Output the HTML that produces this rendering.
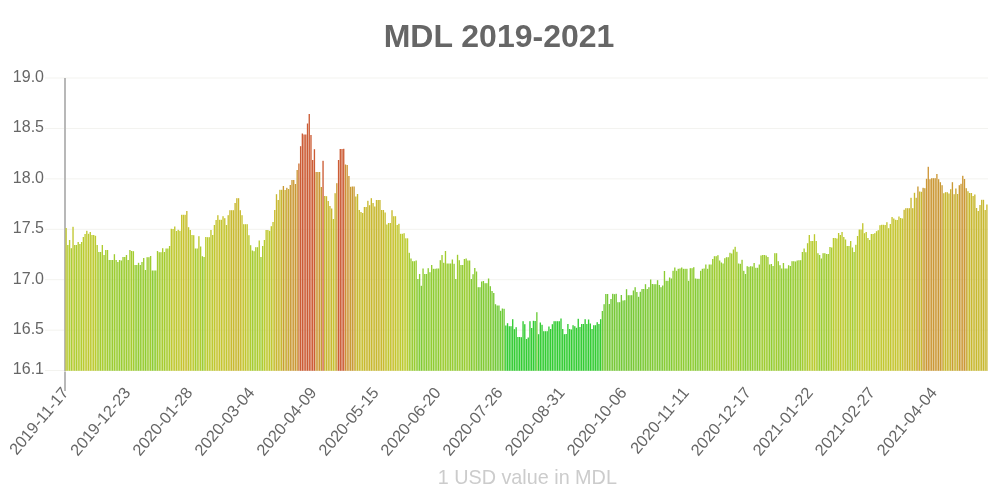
<!DOCTYPE html>
<html><head><meta charset="utf-8"><style>
html,body{margin:0;padding:0;background:#fff;width:1000px;height:500px;overflow:hidden}
svg{display:block;font-family:"Liberation Sans",sans-serif}
</style></head><body><div style="will-change:transform;width:1000px;height:500px">
<svg width="1000" height="500" viewBox="0 0 1000 500">
<rect width="1000" height="500" fill="#fff"/>
<text x="499" y="46.6" text-anchor="middle" font-size="32" font-weight="bold" fill="#666666">MDL 2019-2021</text>
<g><rect x="45" y="77.50" width="943" height="1" fill="#f3f3ef"/><rect x="45" y="127.93" width="943" height="1" fill="#f3f3ef"/><rect x="45" y="178.36" width="943" height="1" fill="#f3f3ef"/><rect x="45" y="228.79" width="943" height="1" fill="#f3f3ef"/><rect x="45" y="279.22" width="943" height="1" fill="#f3f3ef"/><rect x="45" y="329.65" width="943" height="1" fill="#f3f3ef"/><rect x="45" y="369.99" width="943" height="1" fill="#f3f3ef"/></g>
<g fill="#666666" font-size="16"><text x="44" y="81.8" text-anchor="end">19.0</text><text x="44" y="132.2" text-anchor="end">18.5</text><text x="44" y="182.7" text-anchor="end">18.0</text><text x="44" y="233.1" text-anchor="end">17.5</text><text x="44" y="283.5" text-anchor="end">17.0</text><text x="44" y="333.9" text-anchor="end">16.5</text><text x="44" y="374.3" text-anchor="end">16.1</text></g>
<rect x="64" y="78" width="2" height="293" fill="#b8b8b8"/>
<g><rect x="65.45" y="228.0" width="1.35" height="142.8" fill="rgb(192,200,48)"/><rect x="67.17" y="245.0" width="1.35" height="125.8" fill="rgb(175,204,48)"/><rect x="68.90" y="240.0" width="1.35" height="130.8" fill="rgb(185,204,48)"/><rect x="70.62" y="248.2" width="1.35" height="122.6" fill="rgb(169,204,48)"/><rect x="72.35" y="226.8" width="1.35" height="144.0" fill="rgb(192,199,48)"/><rect x="74.07" y="245.0" width="1.35" height="125.8" fill="rgb(175,204,48)"/><rect x="75.80" y="245.0" width="1.35" height="125.8" fill="rgb(175,204,48)"/><rect x="77.52" y="242.0" width="1.35" height="128.8" fill="rgb(181,204,48)"/><rect x="79.24" y="244.0" width="1.35" height="126.8" fill="rgb(177,204,48)"/><rect x="80.97" y="242.0" width="1.35" height="128.8" fill="rgb(181,204,48)"/><rect x="82.69" y="237.0" width="1.35" height="133.8" fill="rgb(187,203,48)"/><rect x="84.42" y="234.0" width="1.35" height="136.8" fill="rgb(189,202,48)"/><rect x="86.14" y="230.8" width="1.35" height="140.0" fill="rgb(190,201,48)"/><rect x="87.87" y="233.8" width="1.35" height="137.0" fill="rgb(189,202,48)"/><rect x="89.59" y="232.0" width="1.35" height="138.8" fill="rgb(190,201,48)"/><rect x="91.31" y="235.0" width="1.35" height="135.8" fill="rgb(188,202,48)"/><rect x="93.04" y="235.0" width="1.35" height="135.8" fill="rgb(188,202,48)"/><rect x="94.76" y="235.8" width="1.35" height="135.0" fill="rgb(188,203,48)"/><rect x="96.49" y="245.0" width="1.35" height="125.8" fill="rgb(175,204,48)"/><rect x="98.21" y="252.0" width="1.35" height="118.8" fill="rgb(163,204,48)"/><rect x="99.94" y="252.0" width="1.35" height="118.8" fill="rgb(163,204,48)"/><rect x="101.66" y="245.0" width="1.35" height="125.8" fill="rgb(175,204,48)"/><rect x="103.38" y="255.0" width="1.35" height="115.8" fill="rgb(159,204,49)"/><rect x="105.11" y="250.0" width="1.35" height="120.8" fill="rgb(165,204,48)"/><rect x="106.83" y="250.0" width="1.35" height="120.8" fill="rgb(165,204,48)"/><rect x="108.56" y="260.0" width="1.35" height="110.8" fill="rgb(153,204,50)"/><rect x="110.28" y="260.0" width="1.35" height="110.8" fill="rgb(153,204,50)"/><rect x="112.01" y="260.0" width="1.35" height="110.8" fill="rgb(153,204,50)"/><rect x="113.73" y="254.2" width="1.35" height="116.6" fill="rgb(160,204,49)"/><rect x="115.45" y="260.0" width="1.35" height="110.8" fill="rgb(153,204,50)"/><rect x="117.18" y="262.0" width="1.35" height="108.8" fill="rgb(151,204,50)"/><rect x="118.90" y="260.0" width="1.35" height="110.8" fill="rgb(153,204,50)"/><rect x="120.63" y="260.5" width="1.35" height="110.3" fill="rgb(152,204,50)"/><rect x="122.35" y="257.0" width="1.35" height="113.8" fill="rgb(157,204,49)"/><rect x="124.08" y="257.0" width="1.35" height="113.8" fill="rgb(157,204,49)"/><rect x="125.80" y="255.0" width="1.35" height="115.8" fill="rgb(159,204,49)"/><rect x="127.52" y="260.0" width="1.35" height="110.8" fill="rgb(153,204,50)"/><rect x="129.25" y="250.0" width="1.35" height="120.8" fill="rgb(165,204,48)"/><rect x="130.97" y="251.0" width="1.35" height="119.8" fill="rgb(164,204,48)"/><rect x="132.70" y="251.2" width="1.35" height="119.6" fill="rgb(164,204,48)"/><rect x="134.42" y="265.0" width="1.35" height="105.8" fill="rgb(147,204,50)"/><rect x="136.15" y="265.0" width="1.35" height="105.8" fill="rgb(147,204,50)"/><rect x="137.87" y="262.8" width="1.35" height="108.0" fill="rgb(150,204,50)"/><rect x="139.59" y="265.0" width="1.35" height="105.8" fill="rgb(147,204,50)"/><rect x="141.32" y="262.0" width="1.35" height="108.8" fill="rgb(151,204,50)"/><rect x="143.04" y="258.0" width="1.35" height="112.8" fill="rgb(156,204,49)"/><rect x="144.77" y="270.0" width="1.35" height="100.8" fill="rgb(141,204,51)"/><rect x="146.49" y="257.2" width="1.35" height="113.6" fill="rgb(156,204,49)"/><rect x="148.22" y="257.2" width="1.35" height="113.6" fill="rgb(156,204,49)"/><rect x="149.94" y="256.0" width="1.35" height="114.8" fill="rgb(158,204,49)"/><rect x="151.66" y="270.5" width="1.35" height="100.3" fill="rgb(140,204,51)"/><rect x="153.39" y="270.5" width="1.35" height="100.3" fill="rgb(140,204,51)"/><rect x="155.11" y="270.5" width="1.35" height="100.3" fill="rgb(140,204,51)"/><rect x="156.84" y="251.0" width="1.35" height="119.8" fill="rgb(164,204,48)"/><rect x="158.56" y="252.2" width="1.35" height="118.6" fill="rgb(163,204,48)"/><rect x="160.29" y="252.2" width="1.35" height="118.6" fill="rgb(163,204,48)"/><rect x="162.01" y="248.2" width="1.35" height="122.6" fill="rgb(169,204,48)"/><rect x="163.74" y="252.0" width="1.35" height="118.8" fill="rgb(163,204,48)"/><rect x="165.46" y="248.5" width="1.35" height="122.3" fill="rgb(168,204,48)"/><rect x="167.18" y="248.5" width="1.35" height="122.3" fill="rgb(168,204,48)"/><rect x="168.91" y="246.0" width="1.35" height="124.8" fill="rgb(173,204,48)"/><rect x="170.63" y="228.8" width="1.35" height="142.0" fill="rgb(191,200,48)"/><rect x="172.36" y="229.0" width="1.35" height="141.8" fill="rgb(191,200,48)"/><rect x="174.08" y="226.5" width="1.35" height="144.3" fill="rgb(193,199,48)"/><rect x="175.81" y="231.0" width="1.35" height="139.8" fill="rgb(190,201,48)"/><rect x="177.53" y="229.8" width="1.35" height="141.0" fill="rgb(191,200,48)"/><rect x="179.25" y="230.8" width="1.35" height="140.0" fill="rgb(190,201,48)"/><rect x="180.98" y="214.8" width="1.35" height="156.0" fill="rgb(200,195,48)"/><rect x="182.70" y="214.8" width="1.35" height="156.0" fill="rgb(200,195,48)"/><rect x="184.43" y="214.8" width="1.35" height="156.0" fill="rgb(200,195,48)"/><rect x="186.15" y="211.0" width="1.35" height="159.8" fill="rgb(200,188,48)"/><rect x="187.88" y="227.2" width="1.35" height="143.6" fill="rgb(192,199,48)"/><rect x="189.60" y="230.0" width="1.35" height="140.8" fill="rgb(191,200,48)"/><rect x="191.32" y="235.0" width="1.35" height="135.8" fill="rgb(188,202,48)"/><rect x="193.05" y="235.2" width="1.35" height="135.6" fill="rgb(188,202,48)"/><rect x="194.77" y="248.5" width="1.35" height="122.3" fill="rgb(168,204,48)"/><rect x="196.50" y="248.5" width="1.35" height="122.3" fill="rgb(168,204,48)"/><rect x="198.22" y="236.2" width="1.35" height="134.6" fill="rgb(188,203,48)"/><rect x="199.95" y="246.5" width="1.35" height="124.3" fill="rgb(172,204,48)"/><rect x="201.67" y="256.2" width="1.35" height="114.6" fill="rgb(158,204,49)"/><rect x="203.39" y="257.0" width="1.35" height="113.8" fill="rgb(157,204,49)"/><rect x="205.12" y="237.0" width="1.35" height="133.8" fill="rgb(187,203,48)"/><rect x="206.84" y="237.2" width="1.35" height="133.6" fill="rgb(187,203,48)"/><rect x="208.57" y="237.2" width="1.35" height="133.6" fill="rgb(187,203,48)"/><rect x="210.29" y="230.0" width="1.35" height="140.8" fill="rgb(191,200,48)"/><rect x="212.02" y="235.0" width="1.35" height="135.8" fill="rgb(188,202,48)"/><rect x="213.74" y="225.0" width="1.35" height="145.8" fill="rgb(194,199,48)"/><rect x="215.46" y="220.0" width="1.35" height="150.8" fill="rgb(197,197,48)"/><rect x="217.19" y="215.2" width="1.35" height="155.6" fill="rgb(199,195,48)"/><rect x="218.91" y="219.8" width="1.35" height="151.0" fill="rgb(197,197,48)"/><rect x="220.64" y="219.8" width="1.35" height="151.0" fill="rgb(197,197,48)"/><rect x="222.36" y="216.2" width="1.35" height="154.6" fill="rgb(199,196,48)"/><rect x="224.09" y="218.2" width="1.35" height="152.6" fill="rgb(198,196,48)"/><rect x="225.81" y="225.0" width="1.35" height="145.8" fill="rgb(194,199,48)"/><rect x="227.53" y="215.2" width="1.35" height="155.6" fill="rgb(199,195,48)"/><rect x="229.26" y="210.2" width="1.35" height="160.6" fill="rgb(200,186,48)"/><rect x="230.98" y="210.2" width="1.35" height="160.6" fill="rgb(200,186,48)"/><rect x="232.71" y="210.2" width="1.35" height="160.6" fill="rgb(200,186,48)"/><rect x="234.43" y="203.0" width="1.35" height="167.8" fill="rgb(200,184,48)"/><rect x="236.16" y="198.2" width="1.35" height="172.6" fill="rgb(200,184,48)"/><rect x="237.88" y="198.2" width="1.35" height="172.6" fill="rgb(200,184,48)"/><rect x="239.60" y="210.2" width="1.35" height="160.6" fill="rgb(200,186,48)"/><rect x="241.33" y="215.2" width="1.35" height="155.6" fill="rgb(199,195,48)"/><rect x="243.05" y="224.2" width="1.35" height="146.6" fill="rgb(194,198,48)"/><rect x="244.78" y="224.2" width="1.35" height="146.6" fill="rgb(194,198,48)"/><rect x="246.50" y="224.2" width="1.35" height="146.6" fill="rgb(194,198,48)"/><rect x="248.23" y="235.2" width="1.35" height="135.6" fill="rgb(188,202,48)"/><rect x="249.95" y="245.2" width="1.35" height="125.6" fill="rgb(174,204,48)"/><rect x="251.67" y="250.5" width="1.35" height="120.3" fill="rgb(165,204,48)"/><rect x="253.40" y="251.2" width="1.35" height="119.6" fill="rgb(164,204,48)"/><rect x="255.12" y="247.2" width="1.35" height="123.6" fill="rgb(170,204,48)"/><rect x="256.85" y="247.2" width="1.35" height="123.6" fill="rgb(170,204,48)"/><rect x="258.57" y="240.5" width="1.35" height="130.3" fill="rgb(184,204,48)"/><rect x="260.30" y="257.0" width="1.35" height="113.8" fill="rgb(157,204,49)"/><rect x="262.02" y="246.0" width="1.35" height="124.8" fill="rgb(173,204,48)"/><rect x="263.74" y="240.0" width="1.35" height="130.8" fill="rgb(185,204,48)"/><rect x="265.47" y="230.0" width="1.35" height="140.8" fill="rgb(191,200,48)"/><rect x="267.19" y="230.0" width="1.35" height="140.8" fill="rgb(191,200,48)"/><rect x="268.92" y="230.8" width="1.35" height="140.0" fill="rgb(190,201,48)"/><rect x="270.64" y="226.2" width="1.35" height="144.6" fill="rgb(193,199,48)"/><rect x="272.37" y="222.0" width="1.35" height="148.8" fill="rgb(195,198,48)"/><rect x="274.09" y="210.0" width="1.35" height="160.8" fill="rgb(200,186,48)"/><rect x="275.81" y="194.2" width="1.35" height="176.6" fill="rgb(200,184,48)"/><rect x="277.54" y="200.0" width="1.35" height="170.8" fill="rgb(200,184,48)"/><rect x="279.26" y="189.8" width="1.35" height="181.0" fill="rgb(200,184,48)"/><rect x="280.99" y="189.8" width="1.35" height="181.0" fill="rgb(200,184,48)"/><rect x="282.71" y="186.0" width="1.35" height="184.8" fill="rgb(201,154,53)"/><rect x="284.44" y="190.0" width="1.35" height="180.8" fill="rgb(200,184,48)"/><rect x="286.16" y="187.8" width="1.35" height="183.0" fill="rgb(201,154,53)"/><rect x="287.88" y="189.0" width="1.35" height="181.8" fill="rgb(200,175,49)"/><rect x="289.61" y="185.0" width="1.35" height="185.8" fill="rgb(202,153,53)"/><rect x="291.33" y="180.0" width="1.35" height="190.8" fill="rgb(203,153,54)"/><rect x="293.06" y="180.0" width="1.35" height="190.8" fill="rgb(203,153,54)"/><rect x="294.78" y="184.0" width="1.35" height="186.8" fill="rgb(202,153,53)"/><rect x="296.51" y="170.0" width="1.35" height="200.8" fill="rgb(205,151,55)"/><rect x="298.23" y="163.5" width="1.35" height="207.3" fill="rgb(205,114,54)"/><rect x="299.95" y="146.2" width="1.35" height="224.6" fill="rgb(204,92,53)"/><rect x="301.68" y="133.5" width="1.35" height="237.3" fill="rgb(204,92,53)"/><rect x="303.40" y="134.5" width="1.35" height="236.3" fill="rgb(204,92,53)"/><rect x="305.13" y="134.5" width="1.35" height="236.3" fill="rgb(204,92,53)"/><rect x="306.85" y="123.5" width="1.35" height="247.3" fill="rgb(204,92,53)"/><rect x="308.58" y="114.0" width="1.35" height="256.8" fill="rgb(204,92,53)"/><rect x="310.30" y="135.0" width="1.35" height="235.8" fill="rgb(204,92,53)"/><rect x="312.02" y="160.0" width="1.35" height="210.8" fill="rgb(204,92,53)"/><rect x="313.75" y="149.2" width="1.35" height="221.6" fill="rgb(204,92,53)"/><rect x="315.47" y="172.0" width="1.35" height="198.8" fill="rgb(204,151,54)"/><rect x="317.20" y="172.0" width="1.35" height="198.8" fill="rgb(204,151,54)"/><rect x="318.92" y="172.0" width="1.35" height="198.8" fill="rgb(204,151,54)"/><rect x="320.65" y="187.0" width="1.35" height="183.8" fill="rgb(201,154,53)"/><rect x="322.37" y="160.8" width="1.35" height="210.0" fill="rgb(204,92,53)"/><rect x="324.09" y="196.0" width="1.35" height="174.8" fill="rgb(200,184,48)"/><rect x="325.82" y="196.2" width="1.35" height="174.6" fill="rgb(200,184,48)"/><rect x="327.54" y="201.0" width="1.35" height="169.8" fill="rgb(200,184,48)"/><rect x="329.27" y="206.0" width="1.35" height="164.8" fill="rgb(200,184,48)"/><rect x="330.99" y="208.5" width="1.35" height="162.3" fill="rgb(200,184,48)"/><rect x="332.72" y="219.0" width="1.35" height="151.8" fill="rgb(197,197,48)"/><rect x="334.44" y="193.2" width="1.35" height="177.6" fill="rgb(200,184,48)"/><rect x="336.16" y="183.2" width="1.35" height="187.6" fill="rgb(202,153,53)"/><rect x="337.89" y="160.0" width="1.35" height="210.8" fill="rgb(204,92,53)"/><rect x="339.61" y="149.0" width="1.35" height="221.8" fill="rgb(204,92,53)"/><rect x="341.34" y="149.0" width="1.35" height="221.8" fill="rgb(204,92,53)"/><rect x="343.06" y="148.8" width="1.35" height="222.0" fill="rgb(204,92,53)"/><rect x="344.79" y="164.5" width="1.35" height="206.3" fill="rgb(206,143,55)"/><rect x="346.51" y="165.0" width="1.35" height="205.8" fill="rgb(206,150,55)"/><rect x="348.24" y="176.0" width="1.35" height="194.8" fill="rgb(204,152,54)"/><rect x="349.96" y="186.8" width="1.35" height="184.0" fill="rgb(201,154,53)"/><rect x="351.68" y="186.5" width="1.35" height="184.3" fill="rgb(201,154,53)"/><rect x="353.41" y="186.5" width="1.35" height="184.3" fill="rgb(201,154,53)"/><rect x="355.13" y="196.5" width="1.35" height="174.3" fill="rgb(200,184,48)"/><rect x="356.86" y="194.0" width="1.35" height="176.8" fill="rgb(200,184,48)"/><rect x="358.58" y="210.0" width="1.35" height="160.8" fill="rgb(200,186,48)"/><rect x="360.31" y="212.0" width="1.35" height="158.8" fill="rgb(200,190,48)"/><rect x="362.03" y="213.0" width="1.35" height="157.8" fill="rgb(200,192,48)"/><rect x="363.75" y="207.0" width="1.35" height="163.8" fill="rgb(200,184,48)"/><rect x="365.48" y="207.0" width="1.35" height="163.8" fill="rgb(200,184,48)"/><rect x="367.20" y="200.8" width="1.35" height="170.0" fill="rgb(200,184,48)"/><rect x="368.93" y="205.2" width="1.35" height="165.6" fill="rgb(200,184,48)"/><rect x="370.65" y="198.2" width="1.35" height="172.6" fill="rgb(200,184,48)"/><rect x="372.38" y="203.0" width="1.35" height="167.8" fill="rgb(200,184,48)"/><rect x="374.10" y="206.5" width="1.35" height="164.3" fill="rgb(200,184,48)"/><rect x="375.82" y="200.0" width="1.35" height="170.8" fill="rgb(200,184,48)"/><rect x="377.55" y="200.0" width="1.35" height="170.8" fill="rgb(200,184,48)"/><rect x="379.27" y="200.0" width="1.35" height="170.8" fill="rgb(200,184,48)"/><rect x="381.00" y="210.0" width="1.35" height="160.8" fill="rgb(200,186,48)"/><rect x="382.72" y="210.0" width="1.35" height="160.8" fill="rgb(200,186,48)"/><rect x="384.45" y="212.5" width="1.35" height="158.3" fill="rgb(200,191,48)"/><rect x="386.17" y="224.5" width="1.35" height="146.3" fill="rgb(194,198,48)"/><rect x="387.89" y="223.0" width="1.35" height="147.8" fill="rgb(195,198,48)"/><rect x="389.62" y="223.0" width="1.35" height="147.8" fill="rgb(195,198,48)"/><rect x="391.34" y="210.2" width="1.35" height="160.6" fill="rgb(200,186,48)"/><rect x="393.07" y="216.2" width="1.35" height="154.6" fill="rgb(199,196,48)"/><rect x="394.79" y="216.2" width="1.35" height="154.6" fill="rgb(199,196,48)"/><rect x="396.52" y="225.0" width="1.35" height="145.8" fill="rgb(194,199,48)"/><rect x="398.24" y="223.8" width="1.35" height="147.0" fill="rgb(194,198,48)"/><rect x="399.96" y="233.8" width="1.35" height="137.0" fill="rgb(189,202,48)"/><rect x="401.69" y="233.8" width="1.35" height="137.0" fill="rgb(189,202,48)"/><rect x="403.41" y="233.2" width="1.35" height="137.6" fill="rgb(189,202,48)"/><rect x="405.14" y="238.3" width="1.35" height="132.5" fill="rgb(187,204,48)"/><rect x="406.86" y="238.3" width="1.35" height="132.5" fill="rgb(187,204,48)"/><rect x="408.59" y="252.8" width="1.35" height="118.0" fill="rgb(162,204,49)"/><rect x="410.31" y="258.5" width="1.35" height="112.3" fill="rgb(155,204,49)"/><rect x="412.03" y="261.2" width="1.35" height="109.6" fill="rgb(152,204,50)"/><rect x="413.76" y="261.2" width="1.35" height="109.6" fill="rgb(152,204,50)"/><rect x="415.48" y="260.5" width="1.35" height="110.3" fill="rgb(152,204,50)"/><rect x="417.21" y="279.0" width="1.35" height="91.8" fill="rgb(131,203,53)"/><rect x="418.93" y="274.0" width="1.35" height="96.8" fill="rgb(136,204,52)"/><rect x="420.66" y="285.8" width="1.35" height="85.0" fill="rgb(126,202,54)"/><rect x="422.38" y="268.5" width="1.35" height="102.3" fill="rgb(143,204,51)"/><rect x="424.10" y="274.0" width="1.35" height="96.8" fill="rgb(136,204,52)"/><rect x="425.83" y="274.0" width="1.35" height="96.8" fill="rgb(136,204,52)"/><rect x="427.55" y="268.2" width="1.35" height="102.6" fill="rgb(143,204,51)"/><rect x="429.28" y="272.2" width="1.35" height="98.6" fill="rgb(138,204,52)"/><rect x="431.00" y="265.0" width="1.35" height="105.8" fill="rgb(147,204,50)"/><rect x="432.73" y="268.8" width="1.35" height="102.0" fill="rgb(142,204,51)"/><rect x="434.45" y="268.8" width="1.35" height="102.0" fill="rgb(142,204,51)"/><rect x="436.17" y="268.5" width="1.35" height="102.3" fill="rgb(143,204,51)"/><rect x="437.90" y="268.5" width="1.35" height="102.3" fill="rgb(143,204,51)"/><rect x="439.62" y="260.2" width="1.35" height="110.6" fill="rgb(153,204,50)"/><rect x="441.35" y="255.0" width="1.35" height="115.8" fill="rgb(159,204,49)"/><rect x="443.07" y="262.8" width="1.35" height="108.0" fill="rgb(150,204,50)"/><rect x="444.80" y="251.0" width="1.35" height="119.8" fill="rgb(164,204,48)"/><rect x="446.52" y="263.5" width="1.35" height="107.3" fill="rgb(149,204,50)"/><rect x="448.24" y="263.5" width="1.35" height="107.3" fill="rgb(149,204,50)"/><rect x="449.97" y="263.5" width="1.35" height="107.3" fill="rgb(149,204,50)"/><rect x="451.69" y="259.5" width="1.35" height="111.3" fill="rgb(154,204,50)"/><rect x="453.42" y="263.8" width="1.35" height="107.0" fill="rgb(148,204,50)"/><rect x="455.14" y="279.0" width="1.35" height="91.8" fill="rgb(131,203,53)"/><rect x="456.87" y="254.8" width="1.35" height="116.0" fill="rgb(159,204,49)"/><rect x="458.59" y="260.2" width="1.35" height="110.6" fill="rgb(153,204,50)"/><rect x="460.31" y="265.0" width="1.35" height="105.8" fill="rgb(147,204,50)"/><rect x="462.04" y="265.0" width="1.35" height="105.8" fill="rgb(147,204,50)"/><rect x="463.76" y="259.0" width="1.35" height="111.8" fill="rgb(154,204,50)"/><rect x="465.49" y="258.5" width="1.35" height="112.3" fill="rgb(155,204,49)"/><rect x="467.21" y="260.5" width="1.35" height="110.3" fill="rgb(152,204,50)"/><rect x="468.94" y="260.5" width="1.35" height="110.3" fill="rgb(152,204,50)"/><rect x="470.66" y="279.0" width="1.35" height="91.8" fill="rgb(131,203,53)"/><rect x="472.38" y="274.2" width="1.35" height="96.6" fill="rgb(136,204,52)"/><rect x="474.11" y="268.0" width="1.35" height="102.8" fill="rgb(143,204,51)"/><rect x="475.83" y="271.5" width="1.35" height="99.3" fill="rgb(139,204,51)"/><rect x="477.56" y="287.2" width="1.35" height="83.6" fill="rgb(124,202,54)"/><rect x="479.28" y="287.2" width="1.35" height="83.6" fill="rgb(124,202,54)"/><rect x="481.01" y="281.5" width="1.35" height="89.3" fill="rgb(129,203,53)"/><rect x="482.73" y="281.0" width="1.35" height="89.8" fill="rgb(130,203,53)"/><rect x="484.45" y="283.2" width="1.35" height="87.6" fill="rgb(128,202,53)"/><rect x="486.18" y="283.2" width="1.35" height="87.6" fill="rgb(128,202,53)"/><rect x="487.90" y="278.5" width="1.35" height="92.3" fill="rgb(132,203,53)"/><rect x="489.63" y="286.2" width="1.35" height="84.6" fill="rgb(125,202,54)"/><rect x="491.35" y="291.0" width="1.35" height="79.8" fill="rgb(121,201,54)"/><rect x="493.08" y="293.0" width="1.35" height="77.8" fill="rgb(120,200,55)"/><rect x="494.80" y="304.2" width="1.35" height="66.6" fill="rgb(114,202,57)"/><rect x="496.52" y="305.5" width="1.35" height="65.3" fill="rgb(113,202,57)"/><rect x="498.25" y="305.5" width="1.35" height="65.3" fill="rgb(113,202,57)"/><rect x="499.97" y="310.8" width="1.35" height="60.0" fill="rgb(111,204,58)"/><rect x="501.70" y="308.5" width="1.35" height="62.3" fill="rgb(112,203,57)"/><rect x="503.42" y="308.8" width="1.35" height="62.0" fill="rgb(111,203,57)"/><rect x="505.15" y="325.5" width="1.35" height="45.3" fill="rgb(51,204,51)"/><rect x="506.87" y="323.2" width="1.35" height="47.6" fill="rgb(51,204,51)"/><rect x="508.59" y="326.2" width="1.35" height="44.6" fill="rgb(51,204,51)"/><rect x="510.32" y="326.2" width="1.35" height="44.6" fill="rgb(51,204,51)"/><rect x="512.04" y="319.2" width="1.35" height="51.6" fill="rgb(51,204,51)"/><rect x="513.77" y="329.2" width="1.35" height="41.6" fill="rgb(51,204,51)"/><rect x="515.49" y="327.2" width="1.35" height="43.6" fill="rgb(51,204,51)"/><rect x="517.22" y="337.0" width="1.35" height="33.8" fill="rgb(51,204,51)"/><rect x="518.94" y="337.0" width="1.35" height="33.8" fill="rgb(51,204,51)"/><rect x="520.66" y="337.2" width="1.35" height="33.6" fill="rgb(51,204,51)"/><rect x="522.39" y="321.2" width="1.35" height="49.6" fill="rgb(51,204,51)"/><rect x="524.11" y="324.2" width="1.35" height="46.6" fill="rgb(51,204,51)"/><rect x="525.84" y="339.0" width="1.35" height="31.8" fill="rgb(51,204,51)"/><rect x="527.56" y="337.5" width="1.35" height="33.3" fill="rgb(51,204,51)"/><rect x="529.29" y="321.2" width="1.35" height="49.6" fill="rgb(51,204,51)"/><rect x="531.01" y="328.0" width="1.35" height="42.8" fill="rgb(51,204,51)"/><rect x="532.74" y="320.8" width="1.35" height="50.0" fill="rgb(51,204,51)"/><rect x="534.46" y="321.0" width="1.35" height="49.8" fill="rgb(51,204,51)"/><rect x="536.18" y="312.2" width="1.35" height="58.6" fill="rgb(108,204,58)"/><rect x="537.91" y="334.2" width="1.35" height="36.6" fill="rgb(51,204,51)"/><rect x="539.63" y="322.5" width="1.35" height="48.3" fill="rgb(51,204,51)"/><rect x="541.36" y="324.8" width="1.35" height="46.0" fill="rgb(51,204,51)"/><rect x="543.08" y="331.2" width="1.35" height="39.6" fill="rgb(51,204,51)"/><rect x="544.81" y="331.2" width="1.35" height="39.6" fill="rgb(51,204,51)"/><rect x="546.53" y="331.2" width="1.35" height="39.6" fill="rgb(51,204,51)"/><rect x="548.25" y="326.5" width="1.35" height="44.3" fill="rgb(51,204,51)"/><rect x="549.98" y="329.0" width="1.35" height="41.8" fill="rgb(51,204,51)"/><rect x="551.70" y="324.2" width="1.35" height="46.6" fill="rgb(51,204,51)"/><rect x="553.43" y="321.2" width="1.35" height="49.6" fill="rgb(51,204,51)"/><rect x="555.15" y="321.2" width="1.35" height="49.6" fill="rgb(51,204,51)"/><rect x="556.88" y="321.2" width="1.35" height="49.6" fill="rgb(51,204,51)"/><rect x="558.60" y="321.2" width="1.35" height="49.6" fill="rgb(51,204,51)"/><rect x="560.32" y="318.5" width="1.35" height="52.3" fill="rgb(51,204,51)"/><rect x="562.05" y="329.0" width="1.35" height="41.8" fill="rgb(51,204,51)"/><rect x="563.77" y="334.2" width="1.35" height="36.6" fill="rgb(51,204,51)"/><rect x="565.50" y="334.0" width="1.35" height="36.8" fill="rgb(51,204,51)"/><rect x="567.22" y="324.0" width="1.35" height="46.8" fill="rgb(51,204,51)"/><rect x="568.95" y="329.0" width="1.35" height="41.8" fill="rgb(51,204,51)"/><rect x="570.67" y="329.5" width="1.35" height="41.3" fill="rgb(51,204,51)"/><rect x="572.39" y="325.2" width="1.35" height="45.6" fill="rgb(51,204,51)"/><rect x="574.12" y="326.2" width="1.35" height="44.6" fill="rgb(51,204,51)"/><rect x="575.84" y="327.8" width="1.35" height="43.0" fill="rgb(51,204,51)"/><rect x="577.57" y="318.8" width="1.35" height="52.0" fill="rgb(51,204,51)"/><rect x="579.29" y="327.0" width="1.35" height="43.8" fill="rgb(51,204,51)"/><rect x="581.02" y="324.0" width="1.35" height="46.8" fill="rgb(51,204,51)"/><rect x="582.74" y="324.0" width="1.35" height="46.8" fill="rgb(51,204,51)"/><rect x="584.46" y="319.2" width="1.35" height="51.6" fill="rgb(51,204,51)"/><rect x="586.19" y="324.0" width="1.35" height="46.8" fill="rgb(51,204,51)"/><rect x="587.91" y="319.5" width="1.35" height="51.3" fill="rgb(51,204,51)"/><rect x="589.64" y="323.5" width="1.35" height="47.3" fill="rgb(51,204,51)"/><rect x="591.36" y="329.0" width="1.35" height="41.8" fill="rgb(51,204,51)"/><rect x="593.09" y="325.2" width="1.35" height="45.6" fill="rgb(51,204,51)"/><rect x="594.81" y="325.2" width="1.35" height="45.6" fill="rgb(51,204,51)"/><rect x="596.53" y="322.2" width="1.35" height="48.6" fill="rgb(51,204,51)"/><rect x="598.26" y="324.0" width="1.35" height="46.8" fill="rgb(51,204,51)"/><rect x="599.98" y="319.2" width="1.35" height="51.6" fill="rgb(51,204,51)"/><rect x="601.71" y="311.0" width="1.35" height="59.8" fill="rgb(110,204,58)"/><rect x="603.43" y="304.2" width="1.35" height="66.6" fill="rgb(114,202,57)"/><rect x="605.16" y="294.0" width="1.35" height="76.8" fill="rgb(119,200,55)"/><rect x="606.88" y="294.0" width="1.35" height="76.8" fill="rgb(119,200,55)"/><rect x="608.60" y="304.0" width="1.35" height="66.8" fill="rgb(114,202,57)"/><rect x="610.33" y="299.0" width="1.35" height="71.8" fill="rgb(116,201,56)"/><rect x="612.05" y="293.8" width="1.35" height="77.0" fill="rgb(119,200,55)"/><rect x="613.78" y="294.2" width="1.35" height="76.6" fill="rgb(119,200,55)"/><rect x="615.50" y="293.8" width="1.35" height="77.0" fill="rgb(119,200,55)"/><rect x="617.23" y="302.2" width="1.35" height="68.6" fill="rgb(115,202,56)"/><rect x="618.95" y="302.2" width="1.35" height="68.6" fill="rgb(115,202,56)"/><rect x="620.67" y="295.0" width="1.35" height="75.8" fill="rgb(118,200,55)"/><rect x="622.40" y="300.5" width="1.35" height="70.3" fill="rgb(115,201,56)"/><rect x="624.12" y="300.2" width="1.35" height="70.6" fill="rgb(116,201,56)"/><rect x="625.85" y="289.2" width="1.35" height="81.6" fill="rgb(123,201,54)"/><rect x="627.57" y="295.2" width="1.35" height="75.6" fill="rgb(118,200,55)"/><rect x="629.30" y="295.2" width="1.35" height="75.6" fill="rgb(118,200,55)"/><rect x="631.02" y="295.2" width="1.35" height="75.6" fill="rgb(118,200,55)"/><rect x="632.74" y="290.5" width="1.35" height="80.3" fill="rgb(122,201,54)"/><rect x="634.47" y="287.2" width="1.35" height="83.6" fill="rgb(124,202,54)"/><rect x="636.19" y="292.0" width="1.35" height="78.8" fill="rgb(120,201,55)"/><rect x="637.92" y="296.8" width="1.35" height="74.0" fill="rgb(117,200,55)"/><rect x="639.64" y="291.8" width="1.35" height="79.0" fill="rgb(121,201,55)"/><rect x="641.37" y="289.0" width="1.35" height="81.8" fill="rgb(123,201,54)"/><rect x="643.09" y="289.0" width="1.35" height="81.8" fill="rgb(123,201,54)"/><rect x="644.81" y="284.2" width="1.35" height="86.6" fill="rgb(127,202,53)"/><rect x="646.54" y="289.0" width="1.35" height="81.8" fill="rgb(123,201,54)"/><rect x="648.26" y="287.2" width="1.35" height="83.6" fill="rgb(124,202,54)"/><rect x="649.99" y="279.5" width="1.35" height="91.3" fill="rgb(131,203,53)"/><rect x="651.71" y="284.0" width="1.35" height="86.8" fill="rgb(127,202,53)"/><rect x="653.44" y="284.2" width="1.35" height="86.6" fill="rgb(127,202,53)"/><rect x="655.16" y="284.2" width="1.35" height="86.6" fill="rgb(127,202,53)"/><rect x="656.88" y="280.2" width="1.35" height="90.6" fill="rgb(130,203,53)"/><rect x="658.61" y="285.0" width="1.35" height="85.8" fill="rgb(126,202,54)"/><rect x="660.33" y="287.2" width="1.35" height="83.6" fill="rgb(124,202,54)"/><rect x="662.06" y="285.5" width="1.35" height="85.3" fill="rgb(126,202,54)"/><rect x="663.78" y="271.0" width="1.35" height="99.8" fill="rgb(140,204,51)"/><rect x="665.51" y="280.8" width="1.35" height="90.0" fill="rgb(130,203,53)"/><rect x="667.23" y="280.8" width="1.35" height="90.0" fill="rgb(130,203,53)"/><rect x="668.95" y="277.5" width="1.35" height="93.3" fill="rgb(133,203,52)"/><rect x="670.68" y="278.5" width="1.35" height="92.3" fill="rgb(132,203,53)"/><rect x="672.40" y="270.8" width="1.35" height="100.0" fill="rgb(140,204,51)"/><rect x="674.13" y="267.5" width="1.35" height="103.3" fill="rgb(144,204,51)"/><rect x="675.85" y="270.8" width="1.35" height="100.0" fill="rgb(140,204,51)"/><rect x="677.58" y="268.8" width="1.35" height="102.0" fill="rgb(142,204,51)"/><rect x="679.30" y="268.5" width="1.35" height="102.3" fill="rgb(143,204,51)"/><rect x="681.02" y="267.5" width="1.35" height="103.3" fill="rgb(144,204,51)"/><rect x="682.75" y="268.8" width="1.35" height="102.0" fill="rgb(142,204,51)"/><rect x="684.47" y="268.8" width="1.35" height="102.0" fill="rgb(142,204,51)"/><rect x="686.20" y="268.8" width="1.35" height="102.0" fill="rgb(142,204,51)"/><rect x="687.92" y="280.8" width="1.35" height="90.0" fill="rgb(130,203,53)"/><rect x="689.65" y="268.2" width="1.35" height="102.6" fill="rgb(143,204,51)"/><rect x="691.37" y="268.2" width="1.35" height="102.6" fill="rgb(143,204,51)"/><rect x="693.09" y="267.2" width="1.35" height="103.6" fill="rgb(144,204,51)"/><rect x="694.82" y="278.5" width="1.35" height="92.3" fill="rgb(132,203,53)"/><rect x="696.54" y="278.8" width="1.35" height="92.0" fill="rgb(132,203,53)"/><rect x="698.27" y="278.8" width="1.35" height="92.0" fill="rgb(132,203,53)"/><rect x="699.99" y="270.8" width="1.35" height="100.0" fill="rgb(140,204,51)"/><rect x="701.72" y="268.8" width="1.35" height="102.0" fill="rgb(142,204,51)"/><rect x="703.44" y="268.5" width="1.35" height="102.3" fill="rgb(143,204,51)"/><rect x="705.16" y="264.5" width="1.35" height="106.3" fill="rgb(148,204,50)"/><rect x="706.89" y="268.8" width="1.35" height="102.0" fill="rgb(142,204,51)"/><rect x="708.61" y="264.5" width="1.35" height="106.3" fill="rgb(148,204,50)"/><rect x="710.34" y="264.5" width="1.35" height="106.3" fill="rgb(148,204,50)"/><rect x="712.06" y="259.0" width="1.35" height="111.8" fill="rgb(154,204,50)"/><rect x="713.79" y="256.2" width="1.35" height="114.6" fill="rgb(158,204,49)"/><rect x="715.51" y="256.2" width="1.35" height="114.6" fill="rgb(158,204,49)"/><rect x="717.24" y="255.2" width="1.35" height="115.6" fill="rgb(159,204,49)"/><rect x="718.96" y="260.5" width="1.35" height="110.3" fill="rgb(152,204,50)"/><rect x="720.68" y="262.5" width="1.35" height="108.3" fill="rgb(150,204,50)"/><rect x="722.41" y="263.5" width="1.35" height="107.3" fill="rgb(149,204,50)"/><rect x="724.13" y="258.2" width="1.35" height="112.6" fill="rgb(155,204,49)"/><rect x="725.86" y="257.2" width="1.35" height="113.6" fill="rgb(156,204,49)"/><rect x="727.58" y="257.2" width="1.35" height="113.6" fill="rgb(156,204,49)"/><rect x="729.31" y="252.8" width="1.35" height="118.0" fill="rgb(162,204,49)"/><rect x="731.03" y="253.5" width="1.35" height="117.3" fill="rgb(161,204,49)"/><rect x="732.75" y="249.5" width="1.35" height="121.3" fill="rgb(166,204,48)"/><rect x="734.48" y="246.8" width="1.35" height="124.0" fill="rgb(171,204,48)"/><rect x="736.20" y="251.8" width="1.35" height="119.0" fill="rgb(163,204,48)"/><rect x="737.93" y="263.5" width="1.35" height="107.3" fill="rgb(149,204,50)"/><rect x="739.65" y="263.8" width="1.35" height="107.0" fill="rgb(148,204,50)"/><rect x="741.38" y="259.8" width="1.35" height="111.0" fill="rgb(153,204,50)"/><rect x="743.10" y="270.8" width="1.35" height="100.0" fill="rgb(140,204,51)"/><rect x="744.82" y="274.0" width="1.35" height="96.8" fill="rgb(136,204,52)"/><rect x="746.55" y="266.2" width="1.35" height="104.6" fill="rgb(145,204,51)"/><rect x="748.27" y="266.8" width="1.35" height="104.0" fill="rgb(145,204,51)"/><rect x="750.00" y="266.2" width="1.35" height="104.6" fill="rgb(145,204,51)"/><rect x="751.72" y="266.5" width="1.35" height="104.3" fill="rgb(145,204,51)"/><rect x="753.45" y="263.0" width="1.35" height="107.8" fill="rgb(149,204,50)"/><rect x="755.17" y="267.8" width="1.35" height="103.0" fill="rgb(143,204,51)"/><rect x="756.89" y="267.8" width="1.35" height="103.0" fill="rgb(143,204,51)"/><rect x="758.62" y="264.5" width="1.35" height="106.3" fill="rgb(148,204,50)"/><rect x="760.34" y="255.5" width="1.35" height="115.3" fill="rgb(159,204,49)"/><rect x="762.07" y="255.0" width="1.35" height="115.8" fill="rgb(159,204,49)"/><rect x="763.79" y="255.0" width="1.35" height="115.8" fill="rgb(159,204,49)"/><rect x="765.52" y="255.5" width="1.35" height="115.3" fill="rgb(159,204,49)"/><rect x="767.24" y="257.0" width="1.35" height="113.8" fill="rgb(157,204,49)"/><rect x="768.96" y="264.5" width="1.35" height="106.3" fill="rgb(148,204,50)"/><rect x="770.69" y="264.0" width="1.35" height="106.8" fill="rgb(148,204,50)"/><rect x="772.41" y="266.0" width="1.35" height="104.8" fill="rgb(146,204,51)"/><rect x="774.14" y="253.2" width="1.35" height="117.6" fill="rgb(161,204,49)"/><rect x="775.86" y="253.2" width="1.35" height="117.6" fill="rgb(161,204,49)"/><rect x="777.59" y="261.2" width="1.35" height="109.6" fill="rgb(152,204,50)"/><rect x="779.31" y="265.2" width="1.35" height="105.6" fill="rgb(147,204,50)"/><rect x="781.03" y="268.5" width="1.35" height="102.3" fill="rgb(143,204,51)"/><rect x="782.76" y="263.0" width="1.35" height="107.8" fill="rgb(149,204,50)"/><rect x="784.48" y="268.5" width="1.35" height="102.3" fill="rgb(143,204,51)"/><rect x="786.21" y="268.5" width="1.35" height="102.3" fill="rgb(143,204,51)"/><rect x="787.93" y="265.2" width="1.35" height="105.6" fill="rgb(147,204,50)"/><rect x="789.66" y="266.0" width="1.35" height="104.8" fill="rgb(146,204,51)"/><rect x="791.38" y="261.2" width="1.35" height="109.6" fill="rgb(152,204,50)"/><rect x="793.10" y="261.2" width="1.35" height="109.6" fill="rgb(152,204,50)"/><rect x="794.83" y="261.5" width="1.35" height="109.3" fill="rgb(151,204,50)"/><rect x="796.55" y="260.5" width="1.35" height="110.3" fill="rgb(152,204,50)"/><rect x="798.28" y="260.2" width="1.35" height="110.6" fill="rgb(153,204,50)"/><rect x="800.00" y="260.2" width="1.35" height="110.6" fill="rgb(153,204,50)"/><rect x="801.73" y="252.0" width="1.35" height="118.8" fill="rgb(163,204,48)"/><rect x="803.45" y="248.5" width="1.35" height="122.3" fill="rgb(168,204,48)"/><rect x="805.17" y="252.2" width="1.35" height="118.6" fill="rgb(163,204,48)"/><rect x="806.90" y="243.2" width="1.35" height="127.6" fill="rgb(178,204,48)"/><rect x="808.62" y="235.0" width="1.35" height="135.8" fill="rgb(188,202,48)"/><rect x="810.35" y="241.0" width="1.35" height="129.8" fill="rgb(183,204,48)"/><rect x="812.07" y="241.0" width="1.35" height="129.8" fill="rgb(183,204,48)"/><rect x="813.80" y="234.2" width="1.35" height="136.6" fill="rgb(189,202,48)"/><rect x="815.52" y="241.0" width="1.35" height="129.8" fill="rgb(183,204,48)"/><rect x="817.24" y="253.2" width="1.35" height="117.6" fill="rgb(161,204,49)"/><rect x="818.97" y="255.0" width="1.35" height="115.8" fill="rgb(159,204,49)"/><rect x="820.69" y="258.5" width="1.35" height="112.3" fill="rgb(155,204,49)"/><rect x="822.42" y="253.2" width="1.35" height="117.6" fill="rgb(161,204,49)"/><rect x="824.14" y="253.2" width="1.35" height="117.6" fill="rgb(161,204,49)"/><rect x="825.87" y="254.0" width="1.35" height="116.8" fill="rgb(160,204,49)"/><rect x="827.59" y="254.0" width="1.35" height="116.8" fill="rgb(160,204,49)"/><rect x="829.31" y="247.0" width="1.35" height="123.8" fill="rgb(171,204,48)"/><rect x="831.04" y="247.5" width="1.35" height="123.3" fill="rgb(170,204,48)"/><rect x="832.76" y="238.0" width="1.35" height="132.8" fill="rgb(187,203,48)"/><rect x="834.49" y="238.0" width="1.35" height="132.8" fill="rgb(187,203,48)"/><rect x="836.21" y="238.5" width="1.35" height="132.3" fill="rgb(186,204,48)"/><rect x="837.94" y="233.0" width="1.35" height="137.8" fill="rgb(189,201,48)"/><rect x="839.66" y="235.0" width="1.35" height="135.8" fill="rgb(188,202,48)"/><rect x="841.38" y="232.0" width="1.35" height="138.8" fill="rgb(190,201,48)"/><rect x="843.11" y="237.0" width="1.35" height="133.8" fill="rgb(187,203,48)"/><rect x="844.83" y="239.5" width="1.35" height="131.3" fill="rgb(186,204,48)"/><rect x="846.56" y="246.0" width="1.35" height="124.8" fill="rgb(173,204,48)"/><rect x="848.28" y="246.0" width="1.35" height="124.8" fill="rgb(173,204,48)"/><rect x="850.01" y="241.0" width="1.35" height="129.8" fill="rgb(183,204,48)"/><rect x="851.73" y="247.5" width="1.35" height="123.3" fill="rgb(170,204,48)"/><rect x="853.45" y="252.0" width="1.35" height="118.8" fill="rgb(163,204,48)"/><rect x="855.18" y="244.8" width="1.35" height="126.0" fill="rgb(175,204,48)"/><rect x="856.90" y="236.0" width="1.35" height="134.8" fill="rgb(188,203,48)"/><rect x="858.63" y="229.5" width="1.35" height="141.3" fill="rgb(191,200,48)"/><rect x="860.35" y="229.5" width="1.35" height="141.3" fill="rgb(191,200,48)"/><rect x="862.08" y="223.2" width="1.35" height="147.6" fill="rgb(195,198,48)"/><rect x="863.80" y="233.2" width="1.35" height="137.6" fill="rgb(189,202,48)"/><rect x="865.52" y="232.0" width="1.35" height="138.8" fill="rgb(190,201,48)"/><rect x="867.25" y="238.0" width="1.35" height="132.8" fill="rgb(187,203,48)"/><rect x="868.97" y="240.0" width="1.35" height="130.8" fill="rgb(185,204,48)"/><rect x="870.70" y="234.0" width="1.35" height="136.8" fill="rgb(189,202,48)"/><rect x="872.42" y="234.0" width="1.35" height="136.8" fill="rgb(189,202,48)"/><rect x="874.15" y="233.2" width="1.35" height="137.6" fill="rgb(189,202,48)"/><rect x="875.87" y="231.2" width="1.35" height="139.6" fill="rgb(190,201,48)"/><rect x="877.59" y="230.2" width="1.35" height="140.6" fill="rgb(191,200,48)"/><rect x="879.32" y="225.2" width="1.35" height="145.6" fill="rgb(193,199,48)"/><rect x="881.04" y="224.8" width="1.35" height="146.0" fill="rgb(194,199,48)"/><rect x="882.77" y="224.8" width="1.35" height="146.0" fill="rgb(194,199,48)"/><rect x="884.49" y="225.0" width="1.35" height="145.8" fill="rgb(194,199,48)"/><rect x="886.22" y="222.2" width="1.35" height="148.6" fill="rgb(195,198,48)"/><rect x="887.94" y="228.2" width="1.35" height="142.6" fill="rgb(192,200,48)"/><rect x="889.66" y="224.0" width="1.35" height="146.8" fill="rgb(194,198,48)"/><rect x="891.39" y="217.0" width="1.35" height="153.8" fill="rgb(198,196,48)"/><rect x="893.11" y="218.5" width="1.35" height="152.3" fill="rgb(197,196,48)"/><rect x="894.84" y="219.8" width="1.35" height="151.0" fill="rgb(197,197,48)"/><rect x="896.56" y="220.0" width="1.35" height="150.8" fill="rgb(197,197,48)"/><rect x="898.29" y="216.5" width="1.35" height="154.3" fill="rgb(199,196,48)"/><rect x="900.01" y="218.0" width="1.35" height="152.8" fill="rgb(198,196,48)"/><rect x="901.74" y="218.5" width="1.35" height="152.3" fill="rgb(197,196,48)"/><rect x="903.46" y="209.8" width="1.35" height="161.0" fill="rgb(200,185,48)"/><rect x="905.18" y="208.2" width="1.35" height="162.6" fill="rgb(200,184,48)"/><rect x="906.91" y="208.2" width="1.35" height="162.6" fill="rgb(200,184,48)"/><rect x="908.63" y="208.2" width="1.35" height="162.6" fill="rgb(200,184,48)"/><rect x="910.36" y="197.8" width="1.35" height="173.0" fill="rgb(200,184,48)"/><rect x="912.08" y="208.2" width="1.35" height="162.6" fill="rgb(200,184,48)"/><rect x="913.81" y="192.8" width="1.35" height="178.0" fill="rgb(200,184,48)"/><rect x="915.53" y="197.8" width="1.35" height="173.0" fill="rgb(200,184,48)"/><rect x="917.25" y="186.5" width="1.35" height="184.3" fill="rgb(201,154,53)"/><rect x="918.98" y="191.5" width="1.35" height="179.3" fill="rgb(200,184,48)"/><rect x="920.70" y="191.8" width="1.35" height="179.0" fill="rgb(200,184,48)"/><rect x="922.43" y="187.8" width="1.35" height="183.0" fill="rgb(201,154,53)"/><rect x="924.15" y="188.2" width="1.35" height="182.6" fill="rgb(201,159,52)"/><rect x="925.88" y="178.8" width="1.35" height="192.0" fill="rgb(203,152,54)"/><rect x="927.60" y="166.8" width="1.35" height="204.0" fill="rgb(206,150,55)"/><rect x="929.32" y="179.2" width="1.35" height="191.6" fill="rgb(203,152,54)"/><rect x="931.05" y="178.2" width="1.35" height="192.6" fill="rgb(203,152,54)"/><rect x="932.77" y="178.2" width="1.35" height="192.6" fill="rgb(203,152,54)"/><rect x="934.50" y="178.2" width="1.35" height="192.6" fill="rgb(203,152,54)"/><rect x="936.22" y="174.0" width="1.35" height="196.8" fill="rgb(204,152,54)"/><rect x="937.95" y="179.2" width="1.35" height="191.6" fill="rgb(203,152,54)"/><rect x="939.67" y="182.2" width="1.35" height="188.6" fill="rgb(202,153,53)"/><rect x="941.39" y="185.2" width="1.35" height="185.6" fill="rgb(202,154,53)"/><rect x="943.12" y="193.2" width="1.35" height="177.6" fill="rgb(200,184,48)"/><rect x="944.84" y="192.2" width="1.35" height="178.6" fill="rgb(200,184,48)"/><rect x="946.57" y="192.2" width="1.35" height="178.6" fill="rgb(200,184,48)"/><rect x="948.29" y="193.5" width="1.35" height="177.3" fill="rgb(200,184,48)"/><rect x="950.02" y="189.2" width="1.35" height="181.6" fill="rgb(200,179,49)"/><rect x="951.74" y="182.2" width="1.35" height="188.6" fill="rgb(202,153,53)"/><rect x="953.46" y="194.2" width="1.35" height="176.6" fill="rgb(200,184,48)"/><rect x="955.19" y="188.5" width="1.35" height="182.3" fill="rgb(201,165,51)"/><rect x="956.91" y="194.0" width="1.35" height="176.8" fill="rgb(200,184,48)"/><rect x="958.64" y="185.2" width="1.35" height="185.6" fill="rgb(202,154,53)"/><rect x="960.36" y="183.8" width="1.35" height="187.0" fill="rgb(202,153,53)"/><rect x="962.09" y="175.8" width="1.35" height="195.0" fill="rgb(204,152,54)"/><rect x="963.81" y="179.0" width="1.35" height="191.8" fill="rgb(203,152,54)"/><rect x="965.53" y="188.2" width="1.35" height="182.6" fill="rgb(201,159,52)"/><rect x="967.26" y="191.2" width="1.35" height="179.6" fill="rgb(200,184,48)"/><rect x="968.98" y="193.0" width="1.35" height="177.8" fill="rgb(200,184,48)"/><rect x="970.71" y="193.0" width="1.35" height="177.8" fill="rgb(200,184,48)"/><rect x="972.43" y="196.0" width="1.35" height="174.8" fill="rgb(200,184,48)"/><rect x="974.16" y="194.5" width="1.35" height="176.3" fill="rgb(200,184,48)"/><rect x="975.88" y="208.0" width="1.35" height="162.8" fill="rgb(200,184,48)"/><rect x="977.60" y="211.0" width="1.35" height="159.8" fill="rgb(200,188,48)"/><rect x="979.33" y="205.0" width="1.35" height="165.8" fill="rgb(200,184,48)"/><rect x="981.05" y="199.8" width="1.35" height="171.0" fill="rgb(200,184,48)"/><rect x="982.78" y="199.8" width="1.35" height="171.0" fill="rgb(200,184,48)"/><rect x="984.50" y="210.0" width="1.35" height="160.8" fill="rgb(200,186,48)"/><rect x="986.23" y="204.5" width="1.35" height="166.3" fill="rgb(200,184,48)"/></g>
<rect x="64" y="371.5" width="2" height="19.5" fill="#b8b8b8"/>
<g fill="#666666" font-size="16.25"><text x="69.3" y="393.0" text-anchor="end" transform="rotate(-50 69.3 393.0)">2019-11-17</text><text x="131.3" y="393.0" text-anchor="end" transform="rotate(-50 131.3 393.0)">2019-12-23</text><text x="193.4" y="393.0" text-anchor="end" transform="rotate(-50 193.4 393.0)">2020-01-28</text><text x="255.4" y="393.0" text-anchor="end" transform="rotate(-50 255.4 393.0)">2020-03-04</text><text x="317.4" y="393.0" text-anchor="end" transform="rotate(-50 317.4 393.0)">2020-04-09</text><text x="379.5" y="393.0" text-anchor="end" transform="rotate(-50 379.5 393.0)">2020-05-15</text><text x="441.5" y="393.0" text-anchor="end" transform="rotate(-50 441.5 393.0)">2020-06-20</text><text x="503.5" y="393.0" text-anchor="end" transform="rotate(-50 503.5 393.0)">2020-07-26</text><text x="565.6" y="393.0" text-anchor="end" transform="rotate(-50 565.6 393.0)">2020-08-31</text><text x="627.6" y="393.0" text-anchor="end" transform="rotate(-50 627.6 393.0)">2020-10-06</text><text x="689.7" y="393.0" text-anchor="end" transform="rotate(-50 689.7 393.0)">2020-11-11</text><text x="751.7" y="393.0" text-anchor="end" transform="rotate(-50 751.7 393.0)">2020-12-17</text><text x="813.7" y="393.0" text-anchor="end" transform="rotate(-50 813.7 393.0)">2021-01-22</text><text x="875.8" y="393.0" text-anchor="end" transform="rotate(-50 875.8 393.0)">2021-02-27</text><text x="937.8" y="393.0" text-anchor="end" transform="rotate(-50 937.8 393.0)">2021-04-04</text></g>
<text x="527.3" y="484.3" text-anchor="middle" font-size="19.8" fill="#cccccc">1 USD value in MDL</text>
</svg></div>
</body></html>
